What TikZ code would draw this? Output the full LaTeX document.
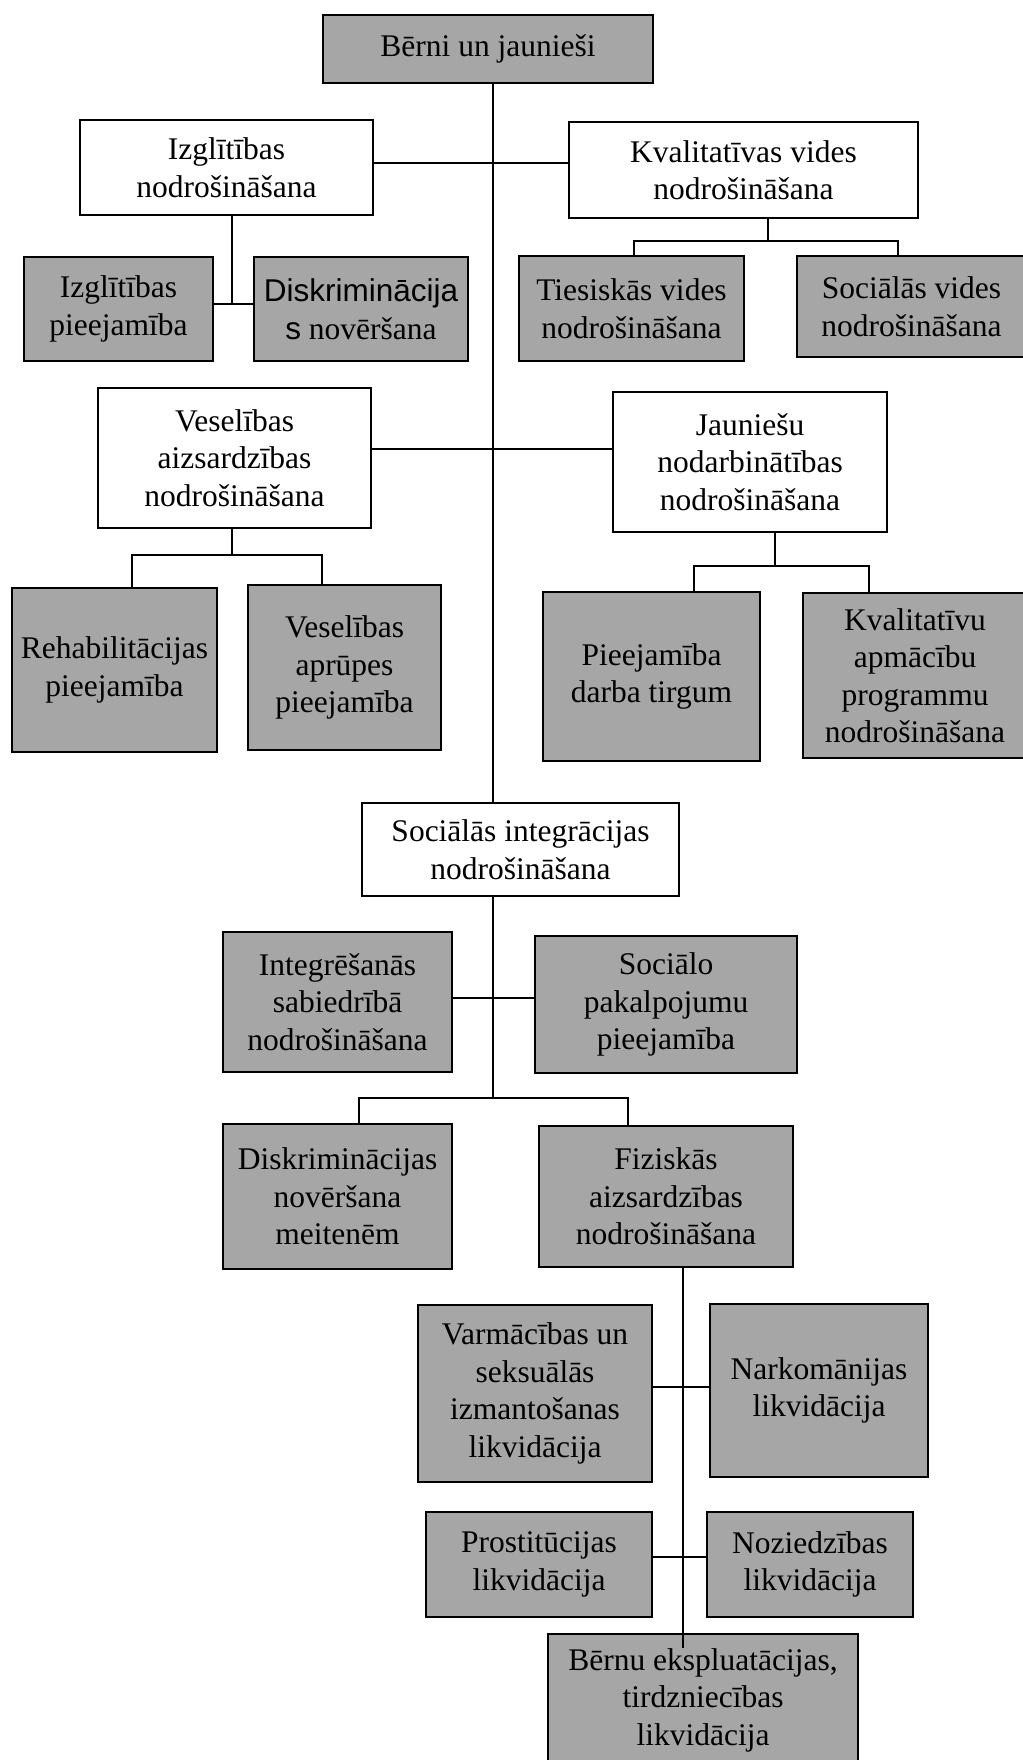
\documentclass[tikz,border=0pt]{standalone}
\usepackage{fontspec}
\setmainfont{Liberation Serif}
\newfontfamily\arialfont{Liberation Sans}
\definecolor{boxgray}{HTML}{A6A6A6}
\tikzset{
	box/.style={draw=black, line width=2.2pt, inner sep=0pt, align=center, font=\fontsize{31.5}{37.5}\selectfont},
	graybox/.style={box, fill=boxgray},
	whitebox/.style={box, fill=white},
	link/.style={line width=1.8pt},
}

\begin{document}
\begin{tikzpicture}[x=1pt, y=-1pt]
		%%%%% START %%%%%
		\useasboundingbox (0,0) rectangle (1022,1760);
		
		\node[graybox, minimum width=330pt, minimum height=68pt] (top) at (488,49) {Bērni un jaunieši};
		
		\node[whitebox, minimum width=293pt, minimum height=95pt] (izgl) at (226.5,167.5) {Izglītības\\nodrošināšana};
		\node[whitebox, minimum width=349pt, minimum height=96pt] (kval) at (743.5,170) {Kvalitatīvas vides\\nodrošināšana};
		\node[graybox, minimum width=189pt, minimum height=104pt] (izglpiee) at (118.5,309) {Izglītības\\pieejamība};
		\node[graybox, minimum width=214pt, minimum height=104pt] (diskr) at (361,309) {{\arialfont Diskriminācija}\\{\arialfont s} novēršana};
		\node[graybox, minimum width=225pt, minimum height=105pt] (ties) at (631.5,308.5) {Tiesiskās vides\\nodrošināšana};
		\node[graybox, minimum width=229pt, minimum height=101pt] (socvid) at (911.5,306.5) {Sociālās vides\\nodrošināšana};
		
		\node[whitebox, minimum width=273pt, minimum height=140pt] (vesel) at (234.5,458) {Veselības\\aizsardzības\\nodrošināšana};
		\node[whitebox, minimum width=274pt, minimum height=140pt] (jaun) at (750,462) {Jauniešu\\nodarbinātības\\nodrošināšana};
		\node[graybox, minimum width=205pt, minimum height=164pt] (rehab) at (114.5,670) {Rehabilitācijas\\pieejamība};
		\node[graybox, minimum width=193pt, minimum height=165pt] (vesapr) at (344.5,667.5) {Veselības\\aprūpes\\pieejamība};
		\node[graybox, minimum width=217pt, minimum height=169pt] (pieej) at (651.5,676.5) {Pieejamība\\darba tirgum};
		\node[graybox, minimum width=224pt, minimum height=165pt] (kvalapm) at (915,675.5) {Kvalitatīvu\\apmācību\\programmu\\nodrošināšana};
		
		\node[whitebox, minimum width=317pt, minimum height=93pt] (socint) at (520.5,849.5) {Sociālās integrācijas\\nodrošināšana};
		\node[graybox, minimum width=229pt, minimum height=140pt] (integ) at (337.5,1002) {Integrēšanās\\sabiedrībā\\nodrošināšana};
		\node[graybox, minimum width=262pt, minimum height=137pt] (socpak) at (666,1004.5) {Sociālo\\pakalpojumu\\pieejamība};
		\node[graybox, minimum width=229pt, minimum height=145pt] (diskrm) at (337.5,1196.5) {Diskriminācijas\\novēršana\\meitenēm};
		\node[graybox, minimum width=254pt, minimum height=141pt] (fiz) at (666,1196.5) {Fiziskās\\aizsardzības\\nodrošināšana};
		
		\node[graybox, minimum width=234pt, minimum height=177pt] (varm) at (535,1393.5) {Varmācības un\\seksuālās\\izmantošanas\\likvidācija};
		\node[graybox, minimum width=218pt, minimum height=173pt] (nark) at (819,1390.5) {Narkomānijas\\likvidācija};
		\node[graybox, minimum width=226pt, minimum height=105pt] (prost) at (539,1564.5) {Prostitūcijas\\likvidācija};
		\node[graybox, minimum width=206pt, minimum height=105pt] (nozied) at (810,1564.5) {Noziedzības\\likvidācija};
		\node[graybox, minimum width=310pt, minimum height=132pt] (bernu) at (703,1700) {Bērnu ekspluatācijas,\\tirdzniecības\\likvidācija};
		
		\coordinate (trunk) at (493,163);
		\coordinate (trunkB) at (493,449);
		\coordinate (izglj) at (232,304);
		\coordinate (kvalj) at (768,241);
		\coordinate (kvall) at (634,241);
		\coordinate (kvalr) at (898,241);
		\coordinate (vesj) at (232,555);
		\coordinate (vesl) at (132,555);
		\coordinate (vesr) at (322,555);
		\coordinate (jaunj) at (775,566);
		\coordinate (jaunl) at (694,566);
		\coordinate (jaunr) at (869,566);
		\coordinate (socy) at (493,998);
		\coordinate (socj) at (493,1098);
		\coordinate (socl) at (359,1098);
		\coordinate (socr) at (628,1098);
		\coordinate (fizA) at (683,1387);
		\coordinate (fizB) at (683,1557);
		\coordinate (fizend) at (683,1648);
		
		\draw[link] (top.south -| trunk) -- (socint.north -| trunk);
		\draw[link] (izgl.east |- trunk) -- (kval.west |- trunk);
		\draw[link] (vesel.east |- trunkB) -- (jaun.west |- trunkB);
		
		\draw[link] (izgl.south -| izglj) -- (izglj);
		\draw[link] (izglpiee.east |- izglj) -- (diskr.west |- izglj);
		
		\draw[link] (kval.south -| kvalj) -- (kvalj);
		\draw[link] (ties.north -| kvall) |- (kvalr) -- (socvid.north -| kvalr);
		
		\draw[link] (vesel.south -| vesj) -- (vesj);
		\draw[link] (rehab.north -| vesl) |- (vesr) -- (vesapr.north -| vesr);
		
		\draw[link] (jaun.south -| jaunj) -- (jaunj);
		\draw[link] (pieej.north -| jaunl) |- (jaunr) -- (kvalapm.north -| jaunr);
		
		\draw[link] (socint.south -| socj) -- (socj);
		\draw[link] (integ.east |- socy) -- (socpak.west |- socy);
		\draw[link] (diskrm.north -| socl) |- (socr) -- (fiz.north -| socr);
		
		\draw[link] (fiz.south -| fizend) -- (fizend);
		\draw[link] (varm.east |- fizA) -- (nark.west |- fizA);
		\draw[link] (prost.east |- fizB) -- (nozied.west |- fizB);
		
		%%%%% END %%%%%
\end{tikzpicture}
\end{document}
